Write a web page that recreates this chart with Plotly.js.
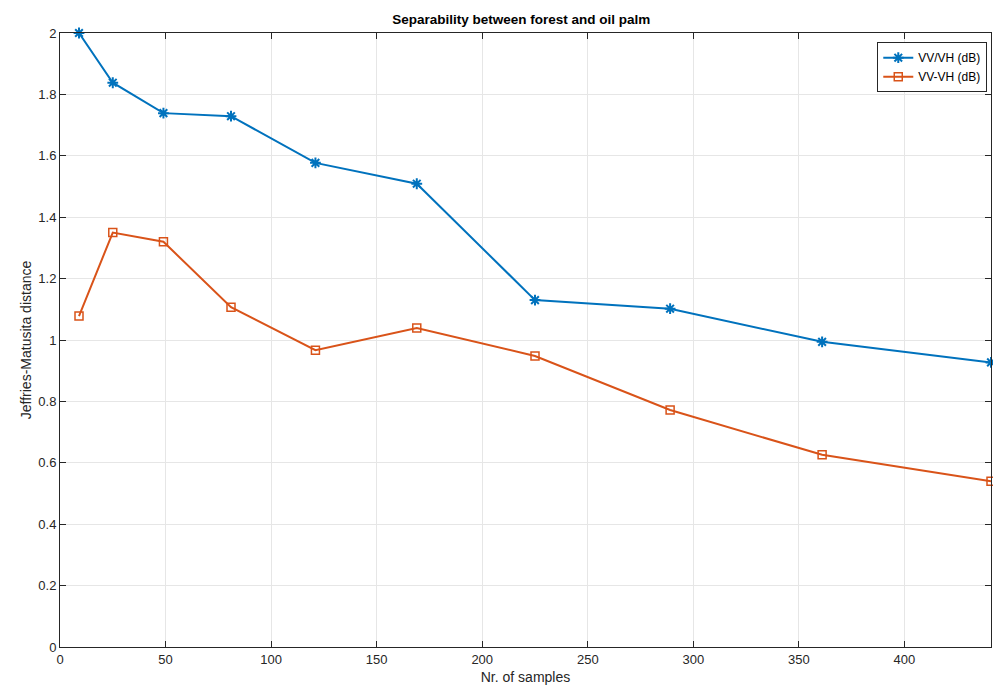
<!DOCTYPE html>
<html><head><meta charset="utf-8">
<script src="https://cdn.plot.ly/plotly-3.0.1.min.js"></script>
<style>body{margin:0;background:#fff}#c{width:993px;height:686px}</style>
</head><body><div id="c"></div>
<script>
const samples = [9, 25, 49, 81, 121, 169, 225, 289, 361, 441];
const vvDivVh = [2.0, 1.838, 1.739, 1.729, 1.577, 1.509, 1.130, 1.102, 0.994, 0.927];
const vvMinusVh = [1.078, 1.350, 1.320, 1.107, 0.967, 1.039, 0.948, 0.772, 0.626, 0.540];
const xTicks = [0, 50, 100, 150, 200, 250, 300, 350, 400];
const yTicks = [0, 0.2, 0.4, 0.6, 0.8, 1, 1.2, 1.4, 1.6, 1.8, 2];

const font = {family: 'Liberation Sans, Arial, sans-serif', size: 13, color: '#262626'};
const traces = [
  {x: samples, y: vvDivVh, name: 'VV/VH (dB)', mode: 'lines+markers', cliponaxis: false,
   line: {color: '#0072BD', width: 2}, marker: {symbol: 'asterisk-open', size: 9, color: '#0072BD', line: {color: '#0072BD', width: 2}}},
  {x: samples, y: vvMinusVh, name: 'VV-VH (dB)', mode: 'lines+markers', cliponaxis: false,
   line: {color: '#D95319', width: 2}, marker: {symbol: 'square-open', size: 8, color: '#D95319', line: {color: '#D95319', width: 1.5}}}
];
const axisCommon = {showline: true, linecolor: '#262626', linewidth: 1, mirror: 'ticks', ticks: 'inside', ticklen: 6,
  tickcolor: '#262626', showgrid: true, gridcolor: '#e6e6e6', gridwidth: 1, zeroline: false, tickfont: {size: 13, color: '#262626'}};
const layout = {
  width: 993, height: 686, paper_bgcolor: '#fff', plot_bgcolor: '#fff', font: font,
  margin: {l: 60, r: 2, t: 33, b: 39},
  title: {text: '<b>Separability between forest and oil palm</b>', font: {size: 13.5, color: '#000'}, x: 0.525, xanchor: 'center', y: 0.972, yanchor: 'middle'},
  xaxis: Object.assign({}, axisCommon, {range: [0, 441], tickvals: xTicks, ticktext: xTicks.map(String),
    title: {text: 'Nr. of samples', font: {size: 14, color: '#262626'}, standoff: 6}}),
  yaxis: Object.assign({}, axisCommon, {range: [0, 2], tickvals: yTicks, ticktext: yTicks.map(String),
    title: {text: 'Jeffries-Matusita distance', font: {size: 14, color: '#262626'}, standoff: 3}}),
  legend: {x: 0.996, y: 0.985, xanchor: 'right', yanchor: 'top', bordercolor: '#262626', borderwidth: 1,
    bgcolor: '#fff', font: {size: 12, color: '#000'}, tracegroupgap: 0, itemwidth: 30},
  showlegend: true
};
Plotly.newPlot('c', traces, layout, {displayModeBar: false});
</script></body></html>
